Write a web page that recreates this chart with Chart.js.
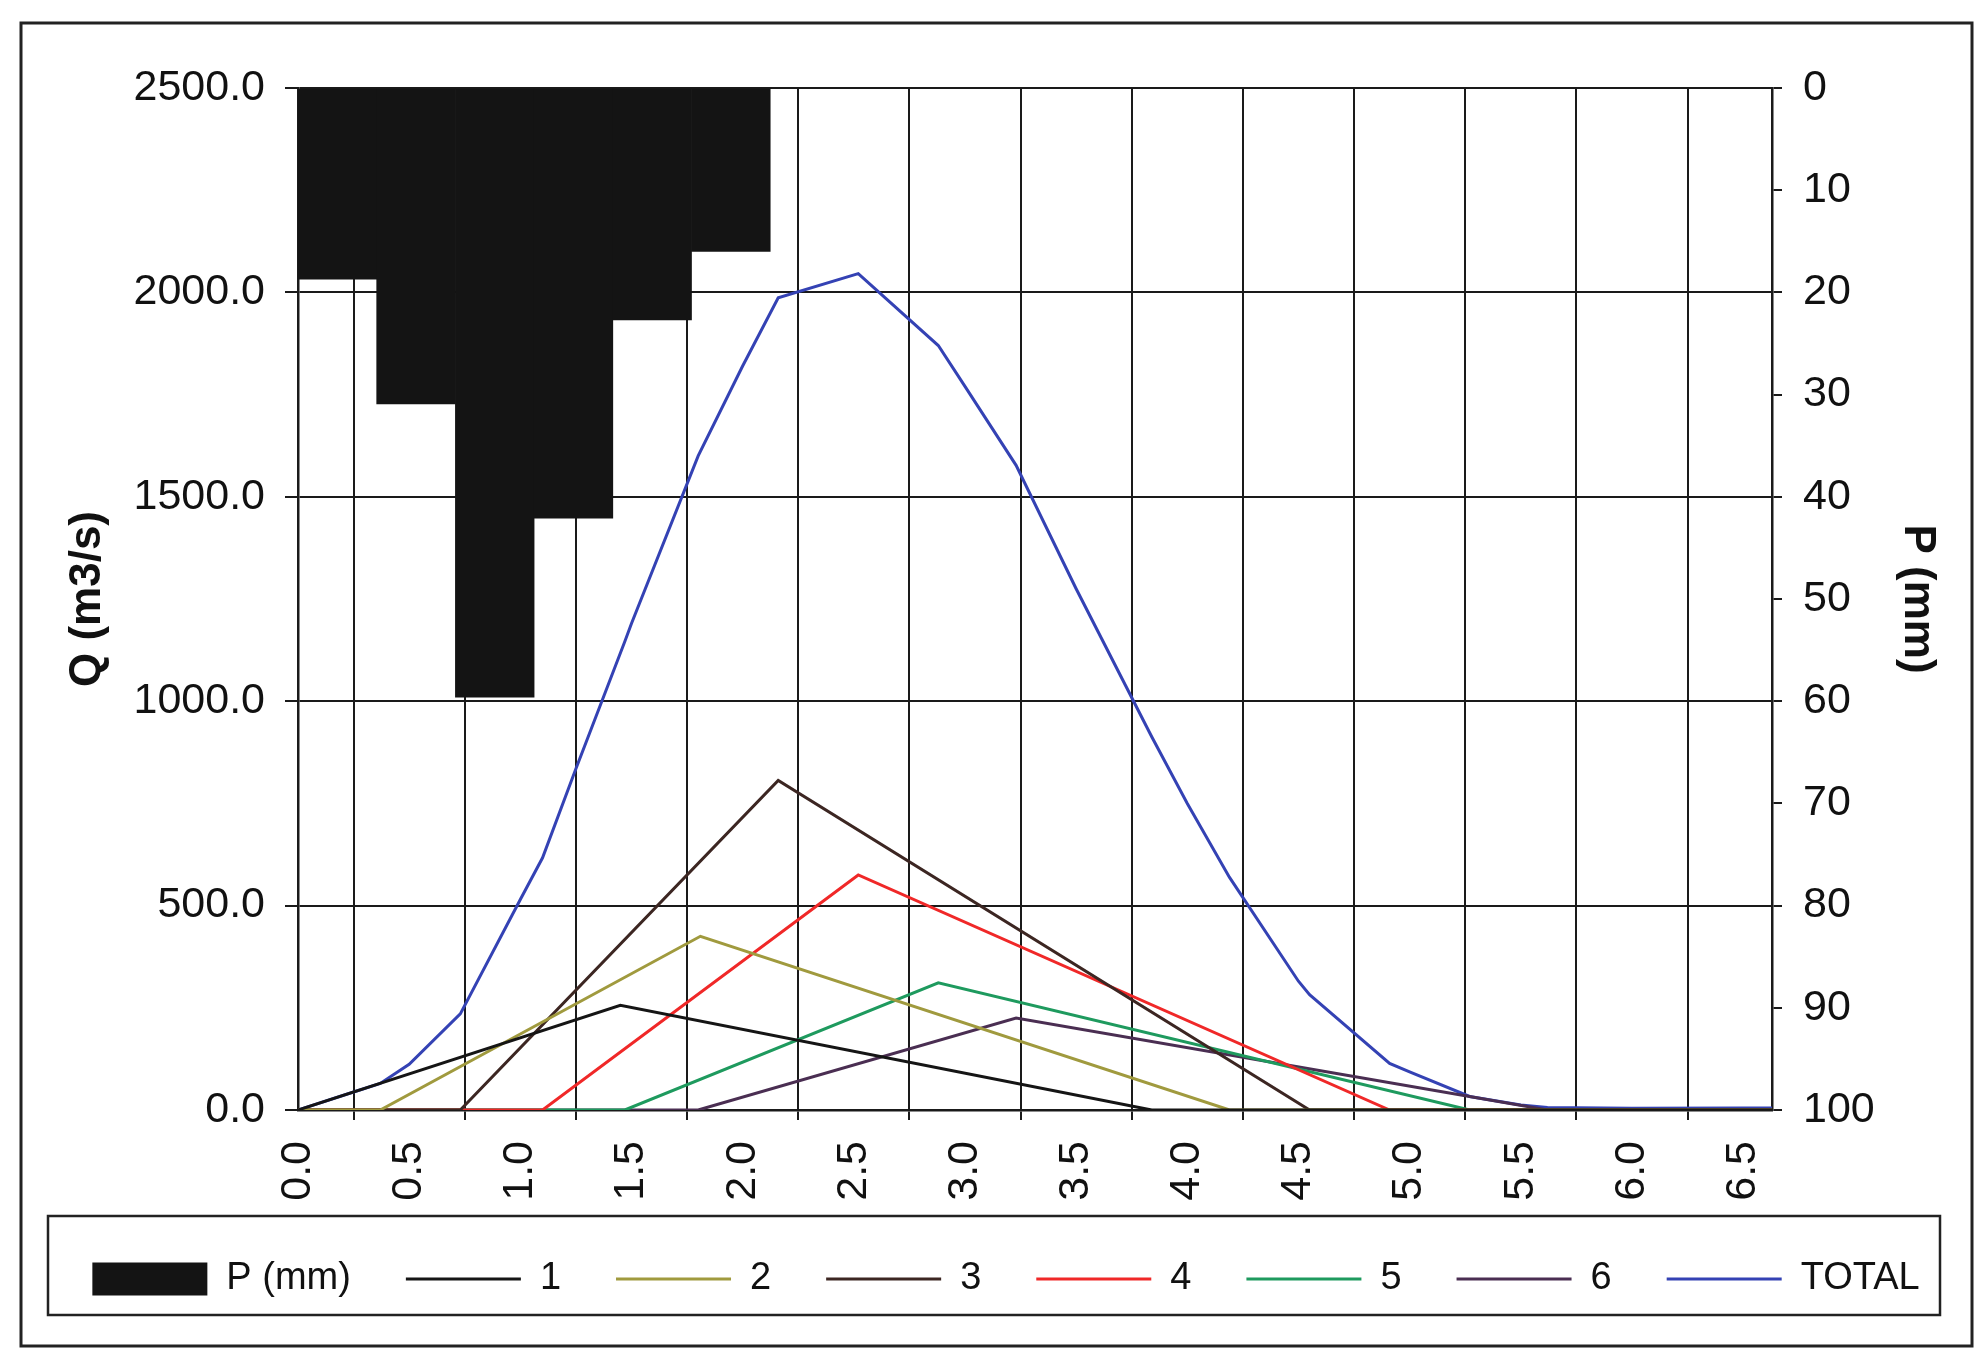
<!DOCTYPE html>
<html>
<head>
<meta charset="utf-8">
<script src="https://cdn.jsdelivr.net/npm/chart.js@4.4.1/dist/chart.umd.min.js"></script>
<style>
  html, body { margin: 0; padding: 0; background: #fff; }
  #wrap { position: relative; width: 1982px; height: 1355px; }
</style>
</head>
<body>
<div id="wrap"><canvas id="chart"></canvas></div>
<script>
// axis ticks
const timeTicks = [0, 0.5, 1, 1.5, 2, 2.5, 3, 3.5, 4, 4.5, 5, 5.5, 6, 6.5];
const qTicks = [0, 500, 1000, 1500, 2000, 2500];
const pTicks = [0, 10, 20, 30, 40, 50, 60, 70, 80, 90, 100];

// rainfall blocks: centre time (h) and depth P (mm)
const rainTime = [0.177, 0.531, 0.885, 1.239, 1.593, 1.947];
const rainP = [18.7, 30.9, 59.6, 42.1, 22.7, 16.0];

// partial hydrographs 1..6 (time h, Q m3/s)
const time1 = [0, 1.45, 3.84, 6.63];
const flow1 = [0, 256, 0, 0];
const time2 = [0, 0.37, 1.81, 4.19, 6.63];
const flow2 = [0, 0, 425, 0, 0];
const time3 = [0, 0.73, 2.16, 4.55, 6.63];
const flow3 = [0, 0, 806, 0, 0];
const time4 = [0, 1.10, 2.52, 4.91, 6.63];
const flow4 = [0, 0, 575, 0, 0];
const time5 = [0, 1.47, 2.88, 5.27, 6.63];
const flow5 = [0, 0, 311, 0, 0];
const time6 = [0, 1.80, 3.23, 5.62, 6.63];
const flow6 = [0, 0, 225, 0, 0];

// total hydrograph
const timeTotal = [0, 0.25, 0.37, 0.5, 0.73, 1.0, 1.1, 1.25, 1.47, 1.5, 1.8, 2.0, 2.16, 2.52,
  2.88, 3.0, 3.23, 3.5, 3.84, 4.0, 4.19, 4.5, 4.55, 4.91, 5.0, 5.27, 5.5, 5.62, 6.0, 6.5, 6.63];
const flowTotal = [0, 44, 65, 112, 235, 515, 617, 835, 1146, 1190, 1600, 1820, 1987, 2046,
  1870, 1770, 1577, 1275, 913, 750, 569, 315, 282, 114, 93, 33, 12, 6, 4, 5, 5];

const pts = (xs, ys) => xs.map((x, i) => ({ x: x, y: ys[i] }));

const FONT = '"Liberation Sans", Arial, sans-serif';
const GRID = '#1a1a1a';

function line(label, xs, ys, color) {
  return {
    type: 'line',
    label: label,
    data: pts(xs, ys),
    borderColor: color,
    backgroundColor: color,
    borderWidth: 3,
    pointRadius: 0,
    pointStyle: 'line',
    tension: 0,
    fill: false,
    yAxisID: 'y'
  };
}

// outer frame and legend frame, like the spreadsheet chart
const frames = {
  id: 'frames',
  afterDraw(chart) {
    const ctx = chart.ctx;
    const hb = chart.legend.legendHitBoxes[0];
    const cy = hb.top + hb.height / 2;
    ctx.save();
    ctx.strokeStyle = '#222';
    ctx.lineWidth = 3;
    ctx.strokeRect(21, 23, 1951, 1323);
    ctx.lineWidth = 2.5;
    ctx.strokeRect(48, cy - 63, 1892, 99);
    ctx.restore();
  }
};

new Chart(document.getElementById('chart'), {
  type: 'line',
  data: {
    datasets: [
      {
        type: 'bar',
        label: 'P (mm)',
        data: pts(rainTime, rainP),
        backgroundColor: '#141414',
        borderWidth: 0,
        barPercentage: 1,
        categoryPercentage: 1,
        pointStyle: 'rect',
        yAxisID: 'yP'
      },
      line('1', time1, flow1, '#151515'),
      line('2', time2, flow2, '#a09a3e'),
      line('3', time3, flow3, '#3c2622'),
      line('4', time4, flow4, '#f02828'),
      line('5', time5, flow5, '#1e9a5e'),
      line('6', time6, flow6, '#4a2e52'),
      line('TOTAL', timeTotal, flowTotal, '#3442b4')
    ]
  },
  options: {
    responsive: true,
    maintainAspectRatio: false,
    animation: false,
    layout: {
      padding: { top: 88, left: 30, right: 0, bottom: 47 }
    },
    plugins: {
      tooltip: { enabled: false },
      legend: {
        position: 'bottom',
        labels: {
          usePointStyle: true,
          pointStyleWidth: 115,
          boxHeight: 33,
          padding: 55,
          color: '#111',
          font: { family: FONT, size: 38 }
        }
      }
    },
    scales: {
      x: {
        type: 'linear',
        min: 0,
        max: 6.63,
        offset: false,
        afterBuildTicks: (s) => { s.ticks = timeTicks.map(v => ({ value: v })); },
        afterFit: (s) => { s.height = 95; },
        grid: { color: GRID, lineWidth: 2, tickLength: 10, tickColor: GRID },
        border: { color: GRID, width: 2.5 },
        ticks: {
          autoSkip: false,
          minRotation: 90,
          maxRotation: 90,
          padding: 21,
          color: '#111',
          font: { family: FONT, size: 43 },
          callback: (v) => Number(v).toFixed(1)
        }
      },
      y: {
        type: 'linear',
        position: 'left',
        min: 0,
        max: 2500,
        afterBuildTicks: (s) => { s.ticks = qTicks.map(v => ({ value: v })); },
        afterFit: (s) => { s.width = 268; },
        grid: { color: GRID, lineWidth: 2, tickLength: 13, tickColor: GRID },
        border: { color: GRID, width: 2.5 },
        ticks: {
          padding: 20,
          color: '#111',
          font: { family: FONT, size: 43 },
          callback: (v) => Number(v).toFixed(1)
        },
        title: {
          display: true,
          text: 'Q (m3/s)',
          color: '#111',
          padding: { top: 31, bottom: 0 },
          font: { family: FONT, size: 44, weight: 'bold' }
        }
      },
      yP: {
        type: 'linear',
        position: 'right',
        reverse: true,
        min: 0,
        max: 100,
        afterBuildTicks: (s) => { s.ticks = pTicks.map(v => ({ value: v })); },
        afterFit: (s) => { s.width = 210; },
        grid: { drawOnChartArea: false, tickLength: 10, tickColor: GRID, lineWidth: 2 },
        border: { color: GRID, width: 2.5 },
        ticks: {
          padding: 21,
          color: '#111',
          font: { family: FONT, size: 43 },
          callback: (v) => String(v)
        },
        title: {
          display: true,
          text: 'P (mm)',
          color: '#111',
          padding: { top: 38, bottom: 0 },
          font: { family: FONT, size: 44, weight: 'bold' }
        }
      }
    }
  },
  plugins: [frames]
});
</script>
</body>
</html>
